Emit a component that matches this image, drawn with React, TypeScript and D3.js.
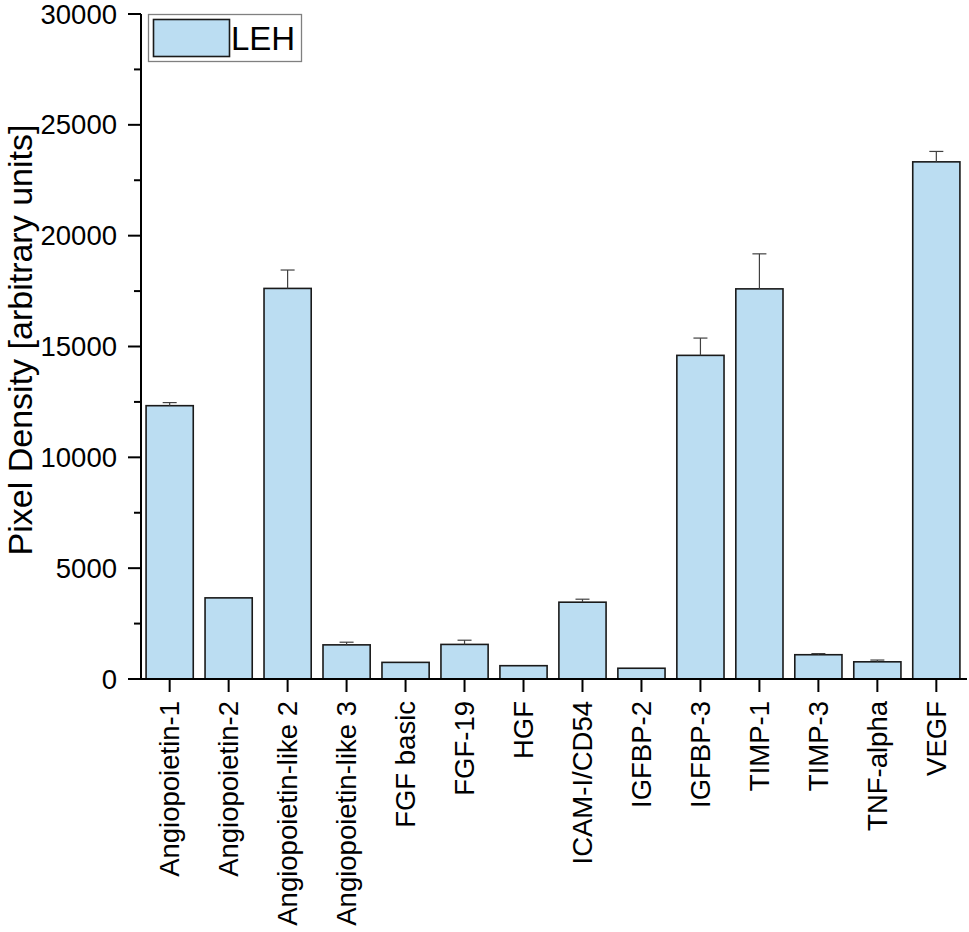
import React from "react";
import * as d3 from "d3";

const categories = [
  "Angiopoietin-1",
  "Angiopoietin-2",
  "Angiopoietin-like 2",
  "Angiopoietin-like 3",
  "FGF basic",
  "FGF-19",
  "HGF",
  "ICAM-I/CD54",
  "IGFBP-2",
  "IGFBP-3",
  "TIMP-1",
  "TIMP-3",
  "TNF-alpha",
  "VEGF",
];
const values = [12330, 3660, 17620, 1540, 750, 1560, 600, 3465, 485, 14600, 17600, 1095, 775, 23330];
const errors = [140, 0, 830, 120, 0, 190, 0, 135, 0, 780, 1580, 50, 80, 470];
const yMajorTicks = [0, 5000, 10000, 15000, 20000, 25000, 30000];
const yMinorTicks = [2500, 7500, 12500, 17500, 22500, 27500];
const seriesName = "LEH";

const W = 969;
const H = 932;
const FONT = "'Liberation Sans', Arial, Helvetica, sans-serif";
const FILL = "#BBDDF2";

export default function App() {
  const y = d3.scaleLinear().domain([0, 30000]).range([679, 14]);
  const x = d3
    .scaleBand<string>()
    .domain(categories)
    .range([139, 967])
    .paddingInner(0.2)
    .paddingOuter(0.12);
  const axisX = 141;
  const baseY = y(0);
  const bw = x.bandwidth();

  return (
    <svg
      width={W}
      height={H}
      style={{ position: "absolute", left: 0, top: 0, display: "block", background: "#fff" }}
      fontFamily={FONT}
    >
      {/* bars */}
      {categories.map((c, i) => (
        <rect
          key={c}
          x={x(c)}
          y={y(values[i])}
          width={bw}
          height={baseY - y(values[i])}
          fill={FILL}
          stroke="#1a1a1a"
          strokeWidth={1.6}
        />
      ))}
      {/* error bars */}
      {categories.map((c, i) => {
        if (!errors[i]) return null;
        const cx = (x(c) as number) + bw / 2;
        const top = y(values[i] + errors[i]);
        return (
          <g key={c + "e"} stroke="#404040" strokeWidth={1.2}>
            <line x1={cx} x2={cx} y1={y(values[i])} y2={top} />
            <line x1={cx - 7} x2={cx + 7} y1={top} y2={top} />
          </g>
        );
      })}
      {/* y axis */}
      <line x1={axisX} x2={axisX} y1={y(30000)} y2={baseY + 1} stroke="#000" strokeWidth={2} />
      {yMajorTicks.map((t) => (
        <g key={t}>
          <line x1={axisX - 13} x2={axisX} y1={y(t)} y2={y(t)} stroke="#000" strokeWidth={2} />
          <text
            x={axisX - 24}
            y={y(t)}
            dy="0.35em"
            textAnchor="end"
            fontSize={27.5}
            fill="#000"
          >
            {t}
          </text>
        </g>
      ))}
      {yMinorTicks.map((t) => (
        <line key={t} x1={axisX - 7} x2={axisX} y1={y(t)} y2={y(t)} stroke="#000" strokeWidth={2} />
      ))}
      {/* x axis */}
      <line x1={axisX - 1} x2={967} y1={baseY} y2={baseY} stroke="#000" strokeWidth={2} />
      {categories.map((c) => {
        const cx = (x(c) as number) + bw / 2;
        return (
          <g key={c + "t"}>
            <line x1={cx} x2={cx} y1={baseY} y2={baseY + 13} stroke="#000" strokeWidth={2} />
            <text
              transform={`translate(${cx},${baseY + 22}) rotate(-90)`}
              textAnchor="end"
              dy="0.35em"
              fontSize={27.5}
              fill="#000"
            >
              {c}
            </text>
          </g>
        );
      })}
      {/* y title */}
      <text
        transform={`translate(32,340) rotate(-90)`}
        textAnchor="middle"
        fontSize={34}
        fill="#000"
      >
        Pixel Density [arbitrary units]
      </text>
      {/* legend */}
      <rect x={148.5} y={14.5} width={153} height={47} fill="#fff" stroke="#808080" strokeWidth={1.3} />
      <rect x={153.5} y={19.5} width={76} height={37} fill={FILL} stroke="#1a1a1a" strokeWidth={1.6} />
      <text x={231} y={50} fontSize={33} fill="#000">
        {seriesName}
      </text>
    </svg>
  );
}
